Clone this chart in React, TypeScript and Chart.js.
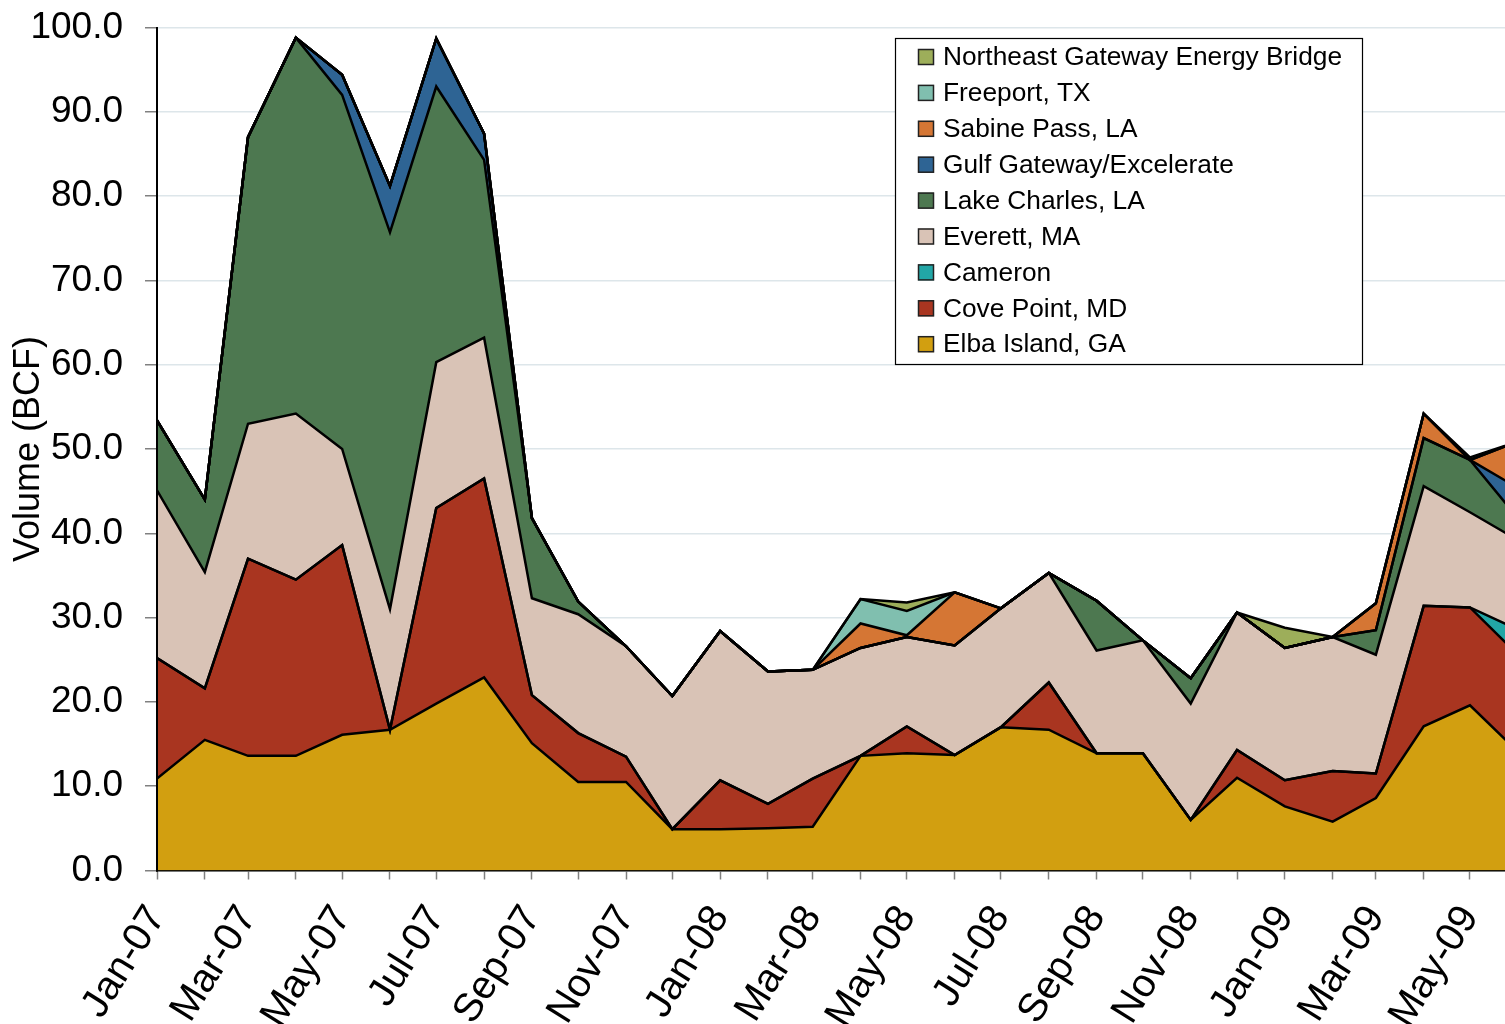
import { useEffect, useRef } from 'react';
import { Chart, registerables } from 'chart.js';

Chart.register(...registerables);

const months = [
  'Jan-07', 'Feb-07', 'Mar-07', 'Apr-07', 'May-07', 'Jun-07', 'Jul-07', 'Aug-07', 'Sep-07', 'Oct-07', 'Nov-07', 'Dec-07',
  'Jan-08', 'Feb-08', 'Mar-08', 'Apr-08', 'May-08', 'Jun-08', 'Jul-08', 'Aug-08', 'Sep-08', 'Oct-08', 'Nov-08', 'Dec-08',
  'Jan-09', 'Feb-09', 'Mar-09', 'Apr-09', 'May-09', 'Jun-09',
];

const elbaIsland = [10.9, 15.5, 13.6, 13.6, 16.1, 16.7, 19.8, 22.9, 15.1, 10.5, 10.5, 4.9, 4.9, 5.0, 5.2, 13.6, 13.9, 13.7, 17.0, 16.7, 13.9, 13.9, 6.0, 11.0, 7.6, 5.8, 8.6, 17.1, 19.6, 14.1];
const covePoint = [14.3, 6.1, 23.4, 20.9, 22.5, 0, 23.2, 23.6, 5.7, 5.8, 3.0, 0, 5.8, 2.9, 5.7, 0, 3.2, 0, 0, 5.6, 0, 0, 0, 3.3, 3.1, 6.0, 2.9, 14.3, 11.6, 11.5];
const cameron = [0, 0, 0, 0, 0, 0, 0, 0, 0, 0, 0, 0, 0, 0, 0, 0, 0, 0, 0, 0, 0, 0, 0, 0, 0, 0, 0, 0, 0, 3.0];
const everett = [19.9, 13.8, 16.0, 19.7, 11.4, 14.3, 17.3, 16.7, 11.5, 14.1, 13.1, 15.8, 17.7, 15.7, 12.9, 12.8, 10.6, 13.0, 14.1, 13.0, 12.2, 13.4, 13.8, 16.3, 15.7, 15.9, 14.1, 14.2, 11.3, 10.6];
const lakeCharles = [8.3, 8.6, 34.0, 44.6, 42.0, 44.7, 32.7, 21.1, 9.5, 1.5, 0, 0, 0, 0, 0, 0, 0, 0, 0, 0, 5.9, 0, 3.0, 0, 0, 0, 2.9, 5.7, 6.2, 2.6];
const gulfGateway = [0, 0, 0, 0, 2.4, 5.5, 5.7, 3.1, 0, 0, 0, 0, 0, 0, 0, 0, 0, 0, 0, 0, 0, 0, 0, 0, 0, 0, 0, 0, 0, 3.6];
const sabinePass = [0, 0, 0, 0, 0, 0, 0, 0, 0, 0, 0, 0, 0, 0, 0, 2.9, 0.2, 6.3, 0, 0, 0, 0, 0, 0, 0, 0, 3.2, 2.9, 0, 5.5];
const freeport = [0, 0, 0, 0, 0, 0, 0, 0, 0, 0, 0, 0, 0, 0, 0, 2.9, 2.9, 0, 0, 0, 0, 0, 0, 0, 0, 0, 0, 0, 0, 0];
const northeastGateway = [0, 0, 0, 0, 0, 0, 0, 0, 0, 0, 0, 0, 0, 0, 0, 0, 1.0, 0, 0, 0, 0, 0, 0, 0, 2.4, 0, 0, 0, 0.3, 0];

const seriesNames = [
  'Elba Island, GA', 'Cove Point, MD', 'Cameron', 'Everett, MA', 'Lake Charles, LA',
  'Gulf Gateway/Excelerate', 'Sabine Pass, LA', 'Freeport, TX', 'Northeast Gateway Energy Bridge',
];
const seriesValues = [elbaIsland, covePoint, cameron, everett, lakeCharles, gulfGateway, sabinePass, freeport, northeastGateway];
const seriesColors = ['#D29F10', '#A93520', '#22A6A6', '#D9C3B6', '#4D7850', '#2E6494', '#D57634', '#80BFAF', '#9DAE5A'];

const yTicks = [0, 10, 20, 30, 40, 50, 60, 70, 80, 90, 100];

const MONTH_NAMES = ['Jan', 'Feb', 'Mar', 'Apr', 'May', 'Jun', 'Jul', 'Aug', 'Sep', 'Oct', 'Nov', 'Dec'];
function dayOffset(label: string): number {
  const m = MONTH_NAMES.indexOf(label.slice(0, 3));
  const y = 2000 + parseInt(label.slice(4), 10);
  return (Date.UTC(y, m, 1) - Date.UTC(2007, 0, 1)) / 86400000;
}
const xDays = months.map(dayOffset);
const X_MAX = 873.7; // visible window ends before the last month (the original is cropped)

const FONT = '"Liberation Sans", Arial, sans-serif';

const boxLegend = {
  id: 'boxLegend',
  afterDraw(chart: any) {
    const ctx = chart.ctx as CanvasRenderingContext2D;
    ctx.save();
    const bx = 895.5, by = 38.5, bw = 467, bh = 326;
    ctx.fillStyle = '#ffffff';
    ctx.fillRect(bx, by, bw, bh);
    ctx.strokeStyle = '#000000';
    ctx.lineWidth = 1.2;
    ctx.strokeRect(bx, by, bw, bh);
    const ds = chart.data.datasets.slice().reverse();
    ctx.font = '26.3px ' + FONT;
    ctx.textBaseline = 'middle';
    ctx.textAlign = 'left';
    ds.forEach((d: any, i: number) => {
      const cy = 57 + i * 35.9;
      ctx.fillStyle = d.backgroundColor;
      ctx.fillRect(918, cy - 8, 16, 16);
      ctx.strokeStyle = '#222222';
      ctx.lineWidth = 1.5;
      ctx.strokeRect(918.5, cy - 7.5, 15, 15);
      ctx.fillStyle = '#000000';
      ctx.fillText(d.label, 943, cy + 1);
    });
    ctx.restore();
  },
};

const yAxisLine = {
  id: 'yAxisLine',
  afterDatasetsDraw(chart: any) {
    const { ctx, chartArea } = chart;
    ctx.save();
    ctx.strokeStyle = '#000000';
    ctx.lineWidth = 2;
    ctx.beginPath();
    ctx.moveTo(chartArea.left, chartArea.top);
    ctx.lineTo(chartArea.left, chartArea.bottom + 1);
    ctx.stroke();
    ctx.restore();
  },
};

export default function App() {
  const ref = useRef<HTMLCanvasElement>(null);

  useEffect(() => {
    if (!ref.current) return;
    Chart.defaults.font.family = FONT;
    const datasets = seriesValues.map((vals, i) => ({
      label: seriesNames[i],
      data: vals.map((v, j) => ({ x: xDays[j], y: v })),
      backgroundColor: seriesColors[i],
      borderColor: '#000000',
      borderWidth: 2.5,
      fill: i === 0 ? 'origin' : '-1',
      pointRadius: 0,
      tension: 0,
    }));

    const chart = new Chart(ref.current, {
      type: 'line',
      data: { datasets },
      plugins: [yAxisLine, boxLegend],
      options: {
        responsive: false,
        animation: false,
        devicePixelRatio: 1,
        layout: { padding: { top: 27.5, right: 0, bottom: 0, left: 0 } },
        plugins: {
          legend: { display: false },
          tooltip: { enabled: false },
          filler: { propagate: false, drawTime: 'beforeDatasetsDraw' },
        },
        scales: {
          x: {
            type: 'linear',
            min: 0,
            max: X_MAX,
            z: 1,
            afterBuildTicks: (axis: any) => {
              axis.ticks = xDays.filter((d) => d <= X_MAX).map((v) => ({ value: v }));
            },
            afterFit: (axis: any) => {
              axis.height = 1024 - 870.5;
              axis.paddingLeft = 0;
              axis.paddingRight = 0;
            },
            grid: {
              display: true,
              drawOnChartArea: false,
              drawTicks: true,
              tickLength: 9,
              tickColor: '#808080',
              tickWidth: 1.5,
            },
            border: { display: true, color: '#000000', width: 2.5 },
            ticks: {
              autoSkip: false,
              minRotation: 58,
              maxRotation: 58,
              padding: 18,
              color: '#000000',
              font: { size: 40, family: FONT },
              callback: (value: any) => {
                const i = xDays.indexOf(Number(value));
                return i >= 0 && i % 2 === 0 ? months[i] : '';
              },
            },
          },
          y: {
            stacked: true,
            min: 0,
            max: 100,
            afterBuildTicks: (axis: any) => {
              axis.ticks = yTicks.map((v) => ({ value: v }));
            },
            afterFit: (axis: any) => {
              axis.width = 157;
              axis.paddingTop = 0;
              axis.paddingBottom = 0;
            },
            grid: {
              color: '#dde6ea',
              lineWidth: 1.5,
              tickColor: '#808080',
              tickLength: 12,
              tickWidth: 1.5,
            },
            border: { display: true, color: '#000000', width: 2 },
            ticks: {
              padding: 22,
              color: '#000000',
              font: { size: 37, family: FONT },
              callback: (value: any) => Number(value).toFixed(1),
            },
            title: {
              display: true,
              text: 'Volume (BCF)',
              color: '#000000',
              font: { size: 36, family: FONT },
              padding: { top: 7, bottom: 0 },
            },
          },
        },
      },
    } as any);

    return () => chart.destroy();
  }, []);

  return (
    <div style={{ position: 'absolute', left: 0, top: 0, width: 1505, height: 1024 }}>
      <canvas ref={ref} width={1505} height={1024} style={{ display: 'block', width: 1505, height: 1024 }} />
    </div>
  );
}
